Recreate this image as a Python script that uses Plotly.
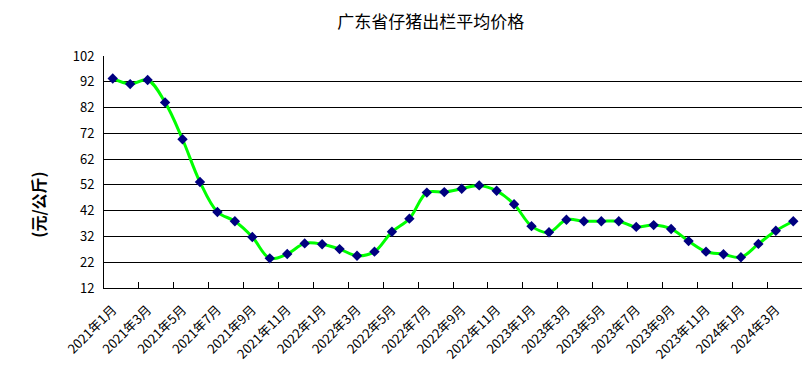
import plotly.graph_objects as go

months = [
    "2021年1月", "2021年2月", "2021年3月", "2021年4月", "2021年5月", "2021年6月",
    "2021年7月", "2021年8月", "2021年9月", "2021年10月", "2021年11月", "2021年12月",
    "2022年1月", "2022年2月", "2022年3月", "2022年4月", "2022年5月", "2022年6月",
    "2022年7月", "2022年8月", "2022年9月", "2022年10月", "2022年11月", "2022年12月",
    "2023年1月", "2023年2月", "2023年3月", "2023年4月", "2023年5月", "2023年6月",
    "2023年7月", "2023年8月", "2023年9月", "2023年10月", "2023年11月", "2023年12月",
    "2024年1月", "2024年2月", "2024年3月", "2024年4月",
]
prices = [
    93.3, 91.1, 92.7, 84.0, 69.7, 53.1, 41.5, 37.9, 31.8, 23.5,
    25.2, 29.3, 29.0, 27.1, 24.5, 26.1, 33.8, 38.9, 49.0, 49.2,
    50.5, 51.8, 49.7, 44.5, 36.0, 33.6, 38.5, 37.9, 37.9, 37.9,
    35.7, 36.4, 34.9, 30.2, 26.1, 25.1, 23.9, 29.1, 34.2, 37.9,
]
y_ticks = [12, 22, 32, 42, 52, 62, 72, 82, 92, 102]
grid_ticks = [22, 32, 42, 52, 62, 72, 82, 92]

font_cjk = "Noto Sans CJK SC"

fig = go.Figure()
# invisible trace carrying the gridline axis (drawn first, below data)
fig.add_trace(go.Scatter(x=[months[0]], y=[prices[0]], yaxis="y2", mode="markers",
                         marker=dict(opacity=0), showlegend=False, hoverinfo="skip"))
fig.add_trace(go.Scatter(
    x=months, y=prices, mode="lines+markers",
    line=dict(color="#00ff00", width=3, shape="spline", smoothing=1.0),
    marker=dict(symbol="diamond", size=8, color="#000080"),
    showlegend=False, hoverinfo="x+y",
))

# page body has an 8px default margin, so the figure is 8px smaller and margins shifted
fig.update_layout(
    width=802, height=377,
    margin=dict(l=96, r=8, t=48, b=97, autoexpand=False),
    paper_bgcolor="white", plot_bgcolor="white",
    title=dict(text="广东省仔猪出栏平均价格", x=0.527, xanchor="center", y=0.962, yanchor="middle",
               font=dict(family=font_cjk, size=17, color="#000000")),
    xaxis=dict(
        type="category", categoryorder="array", categoryarray=months,
        range=[-0.5, len(months) - 0.5], automargin=False,
        tickmode="linear", tick0=0, dtick=2, tickson="boundaries",
        ticks="inside", ticklen=6, tickcolor="black", tickwidth=1,
        tickangle=-45, ticklabelstandoff=8,
        tickfont=dict(family=font_cjk, size=13, color="black"),
        showline=True, linecolor="black", linewidth=1,
        showgrid=False, zeroline=False,
    ),
    yaxis=dict(
        range=[12, 102], tickvals=y_ticks, ticktext=[str(v) for v in y_ticks],
        automargin=False, ticklabelstandoff=6,
        ticks="inside", ticklen=6, tickcolor="black",
        tickfont=dict(family=font_cjk, size=13, color="black"),
        showline=True, linecolor="black", linewidth=1,
        showgrid=False, zeroline=False,
    ),
    yaxis2=dict(
        overlaying="y", range=[12, 102], tickvals=grid_ticks, automargin=False,
        showticklabels=False, showgrid=True, gridcolor="black", gridwidth=1,
        zeroline=False, showline=False, ticks="",
    ),
    annotations=[dict(
        text="<b>(元/公斤)</b>", textangle=-90, xref="paper", yref="paper",
        x=-0.095, y=0.358, xanchor="center", yanchor="middle", showarrow=False,
        font=dict(family=font_cjk, size=16, color="black"),
    )],
)

fig.write_html("out.html")
